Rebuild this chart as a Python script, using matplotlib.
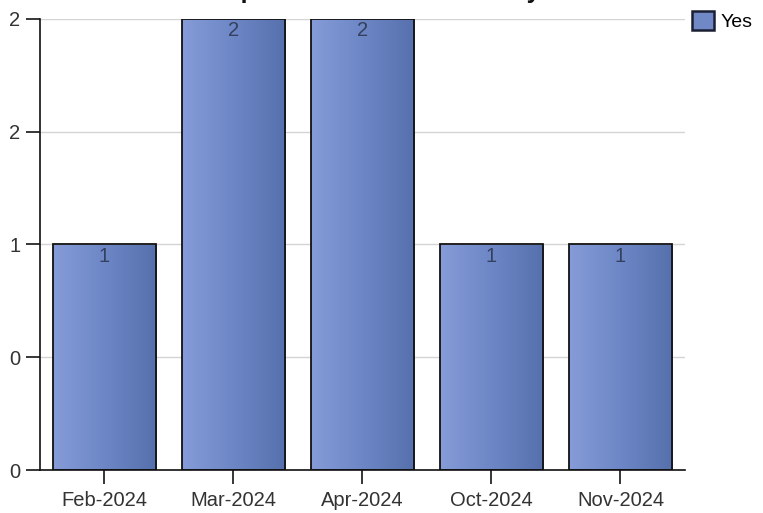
import numpy as np
import matplotlib
matplotlib.use("Agg")
import matplotlib.pyplot as plt
from matplotlib.colors import LinearSegmentedColormap
from matplotlib.patches import Patch
from matplotlib.ticker import FixedLocator, FixedFormatter

plt.rcParams['font.family'] = ['Liberation Sans', 'DejaVu Sans']

# Monthly counts
months = ["Feb-2024", "Mar-2024", "Apr-2024", "Oct-2024", "Nov-2024"]
counts = [1, 2, 2, 1, 1]
series_name = "Yes"
title = "Complaints Received Monthly"

y_ticks = [0, 0.5, 1, 1.5, 2]

fig = plt.figure(figsize=(7.63, 5.13), dpi=100)
ax = fig.add_axes([40 / 763, 43 / 513, 645 / 763, 451 / 513])

x = np.arange(len(months))
bars = ax.bar(x, counts, width=0.8, facecolor="none", edgecolor="#111111",
              linewidth=1.3, zorder=3)

# Horizontal gradient fill (light on the left, darker on the right)
cmap = LinearSegmentedColormap.from_list("bar_grad", ["#859cd8", "#6d86c5", "#5670ad"])
grad = np.linspace(0, 1, 256).reshape(1, -1)
for b in bars:
    x0, y0 = b.get_x(), b.get_y()
    w, h = b.get_width(), b.get_height()
    im = ax.imshow(grad, cmap=cmap, aspect="auto", extent=[x0, x0 + w, y0, y0 + h],
                   zorder=2, interpolation="bilinear")
    im.set_clip_path(b)

for b, v in zip(bars, counts):
    ax.text(b.get_x() + b.get_width() / 2, v - 0.01, f"{v}", ha="center", va="top",
            fontsize=14.5, color="#34415e", zorder=4)

ax.set_xlim(-0.5, 4.5)
ax.set_ylim(0, 2)
ax.set_xticks(x)
ax.set_xticklabels(months, fontsize=14.5, color="#333333")
ax.yaxis.set_major_locator(FixedLocator(y_ticks))
ax.yaxis.set_major_formatter(FixedFormatter([f"{t:.0f}" for t in y_ticks]))
ax.tick_params(axis="y", labelsize=14.5, labelcolor="#333333", length=10, width=1.1, pad=4)
ax.tick_params(axis="x", length=10, width=1.1, pad=5)

ax.grid(axis="y", color="#d4d4d4", linewidth=1.0, zorder=0)
ax.set_axisbelow(True)
for s in ["top", "right"]:
    ax.spines[s].set_visible(False)
for s in ["left", "bottom"]:
    ax.spines[s].set_linewidth(1.2)
    ax.spines[s].set_color("#111111")

ax.set_title(title, fontsize=18, fontweight="bold", pad=15, color="#111111")

handle = Patch(facecolor="#7188c6", edgecolor="#1a1f33", linewidth=1.8)
ax.legend([handle], [series_name], loc="upper left", bbox_to_anchor=(0.999, 1.036),
          frameon=False, fontsize=14, handlelength=1.15, handleheight=1.15,
          handletextpad=0.3, borderaxespad=0)

fig.savefig("out.png", dpi=100)
